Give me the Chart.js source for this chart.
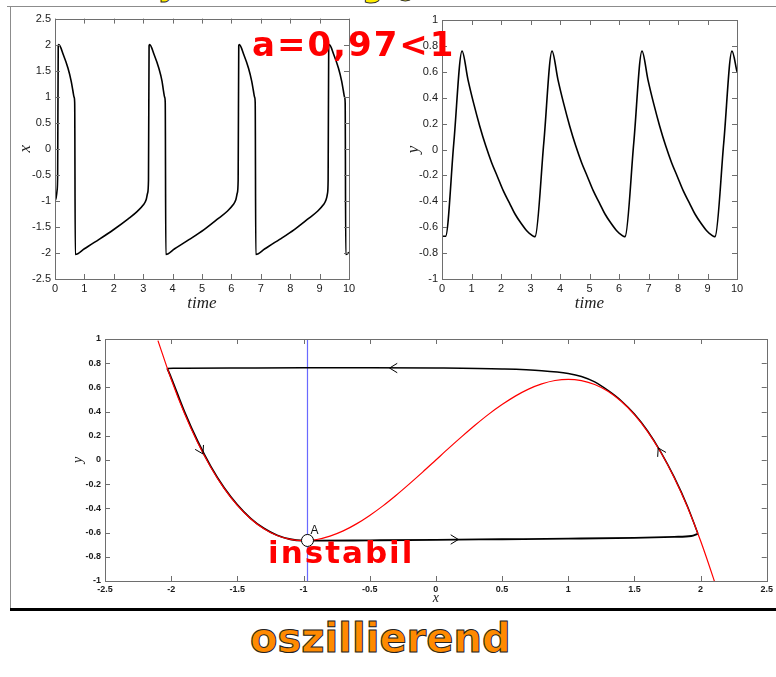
<!DOCTYPE html>
<html lang="de">
<head>
<meta charset="UTF-8">
<title>Relaxationsschwingung – Phasenebene</title>
<script src="https://cdn.jsdelivr.net/npm/chart.js"></script>
<style>
  body { margin: 0; width: 776px; height: 677px; background: #fff; position: relative; overflow: hidden; }
  canvas { position: absolute; }
  .rule { position: absolute; }
  .hand { position: absolute; white-space: nowrap; font-family: "DejaVu Sans", sans-serif; font-weight: bold; line-height: 1; }
</style>
</head>
<body>

<canvas id="xChart" width="352" height="312" style="left:10px; top:8px;"></canvas>
<canvas id="yChart" width="360" height="312" style="left:392px; top:8px;"></canvas>
<canvas id="phaseChart" width="716" height="283" style="left:60px; top:325px;"></canvas>

<div class="rule" style="left:7px; top:6px; width:769px; height:1px; background:#8c8c8c;"></div>
<div class="rule" style="left:10px; top:6px; width:1px; height:603px; background:#8c8c8c;"></div>
<div class="rule" style="left:10px; top:608px; width:766px; height:3px; background:#000;"></div>

<!-- handwritten notes -->
<div class="hand" style="left:158px; top:-29px; font-size:30px; color:#ffee00; -webkit-text-stroke:1px #333;">y</div>
<div class="hand" style="left:286px; top:-26px; font-size:30px; color:#ffee00; -webkit-text-stroke:1px #333;">f</div>
<div class="hand" style="left:362px; top:-28px; font-size:30px; color:#ffee00; -webkit-text-stroke:1px #333;">g</div>
<div class="hand" style="left:395px; top:-24px; font-size:30px; color:#ffee00; -webkit-text-stroke:1px #333;">o</div>
<div class="hand" style="left:252px; top:27px; font-size:34px; color:#ff0000; letter-spacing:2px;">a=0,97&lt;1</div>
<div class="hand" style="left:268px; top:537px; font-size:31px; color:#ff0000; letter-spacing:2px;">instabil</div>
<div class="hand" style="left:250px; top:618px; font-size:40px; color:#ff8a00; letter-spacing:0px; -webkit-text-stroke:1px #222;">oszillierend</div>

<script>
  // x(t)
  const timeX = [0, 0.04, 0.07, 0.09,
    0.11, 0.13, 0.28, 0.44, 0.55, 0.61, 0.65, 0.67, 0.69,
    1.0, 1.5, 2.0, 2.5, 2.8, 3.0, 3.1, 3.15, 3.18,
    3.2, 3.22, 3.37, 3.53, 3.64, 3.69, 3.73, 3.75, 3.77,
    4.07, 4.57, 5.07, 5.57, 5.86, 6.05, 6.15, 6.2, 6.23,
    6.25, 6.27, 6.42, 6.58, 6.69, 6.75, 6.79, 6.81, 6.83,
    7.14, 7.64, 8.14, 8.64, 8.93, 9.12, 9.22, 9.27, 9.29,
    9.31, 9.33, 9.48, 9.64, 9.75, 9.81, 9.85, 9.87, 9.89, 10.0];
  const valuesX = [-1.0, -0.93, -0.8, -0.5,
    1.98, 2.0, 1.81, 1.55, 1.3, 1.11, 0.99, 0.88, -2.03,
    -1.92, -1.74, -1.55, -1.34, -1.2, -1.08, -0.98, -0.85, -0.6,
    1.98, 2.0, 1.81, 1.55, 1.3, 1.11, 0.99, 0.88, -2.03,
    -1.92, -1.74, -1.55, -1.33, -1.2, -1.08, -0.98, -0.85, -0.6,
    1.98, 2.0, 1.81, 1.55, 1.3, 1.11, 0.99, 0.88, -2.03,
    -1.92, -1.74, -1.55, -1.33, -1.2, -1.08, -0.98, -0.85, -0.6,
    1.98, 2.0, 1.81, 1.55, 1.3, 1.11, 0.99, 0.88, -2.03, -1.99];

  // y(t)
  const timeY = [0, 0.12, 0.4, 0.68,
    0.88, 1.08, 1.28, 1.48, 1.68, 1.88, 2.08, 2.28, 2.48, 2.68, 2.88, 3.03, 3.13, 3.16, 3.45, 3.73,
    3.93, 4.13, 4.33, 4.53, 4.73, 4.93, 5.13, 5.33, 5.53, 5.73, 5.93, 6.08, 6.18, 6.21, 6.5, 6.78,
    6.98, 7.18, 7.38, 7.58, 7.78, 7.98, 8.18, 8.38, 8.58, 8.78, 8.98, 9.13, 9.23, 9.26, 9.55, 9.83,
    10.0];
  const valuesY = [-0.67, -0.67, 0.05, 0.76,
    0.54, 0.35, 0.18, 0.03, -0.1, -0.21, -0.32, -0.41, -0.5, -0.57, -0.63, -0.66, -0.673, -0.672, 0.05, 0.76,
    0.54, 0.35, 0.18, 0.03, -0.1, -0.21, -0.32, -0.41, -0.5, -0.57, -0.63, -0.66, -0.673, -0.672, 0.05, 0.76,
    0.54, 0.35, 0.18, 0.03, -0.1, -0.21, -0.32, -0.41, -0.5, -0.57, -0.63, -0.66, -0.673, -0.672, 0.05, 0.76,
    0.6];

  // red nullcline
  const nullX = [-2.1, -2.0, -1.9, -1.8, -1.7, -1.6, -1.5, -1.4, -1.3, -1.2, -1.1, -1.0, -0.9, -0.8, -0.7, -0.6,
    -0.5, -0.4, -0.3, -0.2, -0.1, 0, 0.1, 0.2, 0.3, 0.4, 0.5, 0.6, 0.7, 0.8, 0.9, 1.0, 1.1, 1.2, 1.3, 1.4,
    1.5, 1.6, 1.7, 1.8, 1.9, 2.0, 2.1, 2.12];
  const nullY = [0.987, 0.667, 0.386, 0.144, -0.062, -0.235, -0.375, -0.485, -0.568, -0.624, -0.656, -0.667,
    -0.657, -0.629, -0.586, -0.528, -0.458, -0.379, -0.291, -0.197, -0.1, 0, 0.1, 0.197, 0.291, 0.379, 0.458,
    0.528, 0.586, 0.629, 0.657, 0.667, 0.656, 0.624, 0.568, 0.485, 0.375, 0.235, 0.062, -0.144, -0.386,
    -0.667, -0.987, -1.056];

  // limit cycle, upper and lower arcs
  const upperX = [-2.03, -1.9, -1.5, -1.0, -0.5, 0, 0.5, 0.8, 1.0, 1.1, 1.2, 1.3, 1.4, 1.5, 1.6, 1.7, 1.8, 1.9, 1.98];
  const upperY = [0.757, 0.758, 0.76, 0.762, 0.762, 0.76, 0.752, 0.738, 0.715, 0.69, 0.645, 0.575, 0.49, 0.38,
    0.24, 0.066, -0.14, -0.38, -0.61];
  const lowerX = [-2.03, -2.0, -1.9, -1.8, -1.7, -1.6, -1.5, -1.4, -1.3, -1.2, -1.1, -1.0, -0.9, -0.5, 0, 0.5,
    1.0, 1.5, 1.8, 1.93, 1.98];
  const lowerY = [0.757, 0.68, 0.4, 0.155, -0.055, -0.23, -0.37, -0.482, -0.565, -0.622, -0.655, -0.666, -0.667,
    -0.664, -0.66, -0.655, -0.65, -0.643, -0.635, -0.628, -0.61];

  const aValue = -0.97;
  const pointA = { x: -0.97, y: -0.665, label: 'A' };

  // flow direction marks: position and heading (deg, screen)
  const arrowX = [-0.35, -1.76, 0.17, 1.68];
  const arrowY = [0.76, 0.05, -0.657, 0.1];
  const arrowDir = [180, 62, 0, -118];

  const xTicks1 = [0, 10, 1];
  const yTicks1 = [-2.5, 2.5, 0.5];
  const yTicks2 = [-1, 1, 0.2];
  const phaseXTicks = [-2.5, 2.5, 0.5];
  const phaseYTicks = [-1, 1, 0.2];

  const pts = (xs, ys) => xs.map((x, i) => ({ x: x, y: ys[i] }));

  // MATLAB-like box with ticks pointing inwards
  const matlabBox = {
    id: 'matlabBox',
    afterDraw(chart) {
      const { ctx, chartArea: a, scales } = chart;
      ctx.save();
      ctx.strokeStyle = '#6e6e6e';
      ctx.lineWidth = 1;
      ctx.beginPath();
      scales.x.ticks.forEach(t => {
        const px = Math.round(scales.x.getPixelForValue(t.value)) + 0.5;
        ctx.moveTo(px, a.bottom); ctx.lineTo(px, a.bottom - 5);
        ctx.moveTo(px, a.top); ctx.lineTo(px, a.top + 5);
      });
      scales.y.ticks.forEach(t => {
        const py = Math.round(scales.y.getPixelForValue(t.value)) + 0.5;
        ctx.moveTo(a.left, py); ctx.lineTo(a.left + 5, py);
        ctx.moveTo(a.right, py); ctx.lineTo(a.right - 5, py);
      });
      ctx.stroke();
      ctx.strokeRect(Math.round(a.left) + 0.5, Math.round(a.top) + 0.5, Math.round(a.width), Math.round(a.height));
      ctx.restore();
    }
  };

  function axisOpts(range, size, fontSpec, title, isY) {
    return {
      type: 'linear',
      min: range[0],
      max: range[1],
      grid: { display: false, drawTicks: false, tickLength: 0 },
      border: { display: false },
      afterFit(scale) {
        if (isY) scale.width = size; else scale.height = size;
      },
      afterBuildTicks(scale) {
        const t = [];
        for (let v = range[0]; v <= range[1] + 1e-9; v += range[2]) t.push({ value: Math.round(v * 1000) / 1000 });
        scale.ticks = t;
      },
      ticks: {
        autoSkip: false,
        maxRotation: 0,
        padding: isY ? 4 : 3,
        color: '#1a1a1a',
        font: fontSpec,
        callback: v => String(Number(v.toFixed(2)))
      },
      title: title
    };
  }

  const tickFont = { family: '"Liberation Sans", Arial, sans-serif', size: 11 };
  const titleFont = { family: '"Liberation Serif", "DejaVu Serif", serif', size: 17, style: 'italic' };

  function timeChart(id, tValues, vValues, yRange, yWidth, yTitlePad, padTop, padRight, yLabel) {
    new Chart(document.getElementById(id), {
      type: 'scatter',
      data: {
        datasets: [{
          data: pts(tValues, vValues),
          showLine: true,
          borderColor: '#000',
          borderWidth: 1.6,
          pointRadius: 0,
          cubicInterpolationMode: 'monotone'
        }]
      },
      options: {
        responsive: false,
        animation: false,
        layout: { autoPadding: false, padding: { top: padTop, right: padRight, left: 0, bottom: 0 } },
        plugins: { legend: { display: false }, tooltip: { enabled: false } },
        scales: {
          x: axisOpts(xTicks1, 41, tickFont,
            { display: true, text: 'time', color: '#222', font: titleFont, padding: { top: 0, bottom: 6 } }, false),
          y: axisOpts(yRange, yWidth, tickFont,
            { display: true, text: yLabel, color: '#222', font: titleFont, padding: { top: yTitlePad, bottom: 0 } }, true)
        }
      },
      plugins: [matlabBox]
    });
  }

  timeChart('xChart', timeX, valuesX, yTicks1, 45, 5, 9, 13, 'x');
  timeChart('yChart', timeY, valuesY, yTicks2, 50, 11, 12, 15, 'y');

  // phase plane extras: point label A and direction arrows
  const phaseMarks = {
    id: 'phaseMarks',
    afterDatasetsDraw(chart) {
      const { ctx, scales } = chart;
      const sx = scales.x, sy = scales.y;
      ctx.save();
      ctx.strokeStyle = '#000';
      ctx.lineWidth = 1;
      arrowX.forEach((ax, i) => {
        const px = sx.getPixelForValue(ax), py = sy.getPixelForValue(arrowY[i]);
        const ang = arrowDir[i] * Math.PI / 180;
        ctx.beginPath();
        [-0.55, 0.55].forEach(d => {
          ctx.moveTo(px, py);
          ctx.lineTo(px - 9 * Math.cos(ang + d), py - 9 * Math.sin(ang + d));
        });
        ctx.stroke();
      });
      ctx.fillStyle = '#111';
      ctx.font = '12px "Liberation Sans", Arial, sans-serif';
      ctx.textBaseline = 'bottom';
      ctx.fillText(pointA.label, sx.getPixelForValue(pointA.x) + 3, sy.getPixelForValue(pointA.y) - 4);
      ctx.restore();
    }
  };

  const smallFont = { family: '"Liberation Sans", Arial, sans-serif', size: 9, weight: 'bold' };
  const phaseTitleFont = { family: '"Liberation Serif", "DejaVu Serif", serif', size: 14, style: 'italic' };

  new Chart(document.getElementById('phaseChart'), {
    type: 'scatter',
    data: {
      datasets: [
        {
          data: [{ x: pointA.x, y: pointA.y }],
          order: 0,
          pointRadius: 6, pointBackgroundColor: '#fff', pointBorderColor: '#000', pointBorderWidth: 1
        },
        {
          data: pts(nullX, nullY),
          order: 1,
          showLine: true, borderColor: '#ff0000', borderWidth: 1.2, pointRadius: 0,
          cubicInterpolationMode: 'monotone'
        },
        {
          data: pts(lowerX, lowerY),
          order: 2,
          showLine: true, borderColor: '#000', borderWidth: 1.8, pointRadius: 0,
          cubicInterpolationMode: 'monotone'
        },
        {
          data: pts(upperX, upperY),
          order: 3,
          showLine: true, borderColor: '#000', borderWidth: 1.5, pointRadius: 0,
          cubicInterpolationMode: 'monotone'
        },
        {
          data: pts([aValue, aValue], [-1, 1]),
          order: 4,
          showLine: true, borderColor: 'rgb(105, 105, 255)', borderWidth: 1.2, pointRadius: 0
        }
      ]
    },
    options: {
      responsive: false,
      animation: false,
      layout: { autoPadding: false, padding: { top: 14, right: 4, left: 0, bottom: 0 } },
      plugins: { legend: { display: false }, tooltip: { enabled: false } },
      scales: {
        x: axisOpts(phaseXTicks, 27, smallFont,
          { display: true, text: 'x', color: '#222', font: phaseTitleFont, padding: { top: 0, bottom: 1 } }, false),
        y: axisOpts(phaseYTicks, 45, smallFont,
          { display: true, text: 'y', color: '#222', font: phaseTitleFont, padding: { top: 10, bottom: 0 } }, true)
      }
    },
    plugins: [matlabBox, phaseMarks]
  });
</script>
</body>
</html>
